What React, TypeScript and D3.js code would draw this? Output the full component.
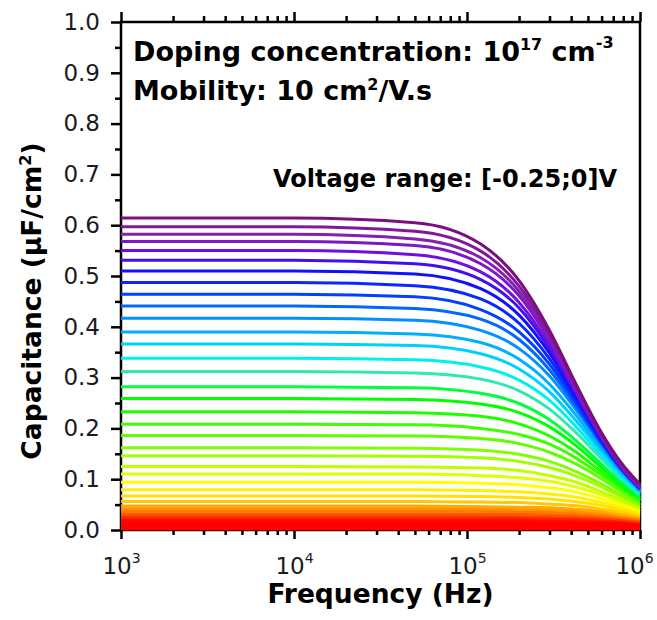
import * as d3 from 'd3'
import { useEffect, useRef } from 'react'

// frequency samples (Hz) shared by every curve
const FREQ = [1e3, 1e4, 5e4, 1.2e5, 2e5, 3e5, 4.2e5, 5.8e5, 7.8e5, 1e6]

// capacitance (µF/cm²) for each voltage step, highest curve first
const C01 = [0.614, 0.614, 0.605, 0.563, 0.491, 0.393, 0.292, 0.2, 0.132, 0.09]
const C02 = [0.597, 0.597, 0.588, 0.549, 0.48, 0.386, 0.288, 0.197, 0.129, 0.087]
const C03 = [0.582, 0.582, 0.573, 0.536, 0.47, 0.379, 0.284, 0.195, 0.127, 0.085]
const C04 = [0.568, 0.568, 0.56, 0.524, 0.461, 0.373, 0.281, 0.193, 0.126, 0.084]
const C05 = [0.55, 0.55, 0.542, 0.508, 0.448, 0.364, 0.275, 0.19, 0.125, 0.083]
const C06 = [0.531, 0.531, 0.524, 0.493, 0.437, 0.357, 0.272, 0.188, 0.124, 0.083]
const C07 = [0.51, 0.51, 0.504, 0.475, 0.423, 0.348, 0.267, 0.186, 0.123, 0.083]
const C08 = [0.487, 0.487, 0.481, 0.455, 0.407, 0.337, 0.26, 0.183, 0.122, 0.082]
const C09 = [0.464, 0.464, 0.459, 0.434, 0.39, 0.326, 0.253, 0.179, 0.12, 0.081]
const C10 = [0.441, 0.441, 0.436, 0.415, 0.375, 0.315, 0.247, 0.177, 0.119, 0.08]
const C11 = [0.417, 0.417, 0.413, 0.393, 0.357, 0.303, 0.24, 0.174, 0.118, 0.079]
const C12 = [0.39, 0.39, 0.386, 0.369, 0.336, 0.287, 0.229, 0.166, 0.114, 0.077]
const C13 = [0.366, 0.366, 0.363, 0.347, 0.317, 0.272, 0.218, 0.16, 0.11, 0.075]
const C14 = [0.338, 0.338, 0.335, 0.321, 0.295, 0.255, 0.206, 0.152, 0.105, 0.073]
const C15 = [0.312, 0.312, 0.309, 0.297, 0.274, 0.238, 0.194, 0.145, 0.101, 0.07]
const C16 = [0.282, 0.282, 0.28, 0.269, 0.249, 0.217, 0.178, 0.134, 0.094, 0.065]
const C17 = [0.259, 0.259, 0.257, 0.248, 0.231, 0.203, 0.168, 0.127, 0.09, 0.063]
const C18 = [0.233, 0.233, 0.231, 0.224, 0.209, 0.185, 0.155, 0.118, 0.085, 0.06]
const C19 = [0.208, 0.208, 0.207, 0.2, 0.188, 0.169, 0.143, 0.111, 0.081, 0.058]
const C20 = [0.186, 0.186, 0.185, 0.18, 0.17, 0.153, 0.131, 0.104, 0.076, 0.055]
const C21 = [0.162, 0.162, 0.161, 0.157, 0.149, 0.135, 0.116, 0.093, 0.069, 0.05]
const C22 = [0.146, 0.146, 0.145, 0.142, 0.135, 0.123, 0.107, 0.087, 0.065, 0.048]
const C23 = [0.125, 0.125, 0.124, 0.122, 0.117, 0.107, 0.095, 0.077, 0.059, 0.044]
const C24 = [0.11, 0.11, 0.11, 0.107, 0.103, 0.096, 0.085, 0.071, 0.055, 0.042]
const C25 = [0.094, 0.094, 0.094, 0.092, 0.089, 0.083, 0.075, 0.063, 0.05, 0.038]
const C26 = [0.079, 0.079, 0.079, 0.078, 0.075, 0.071, 0.065, 0.055, 0.045, 0.035]
const C27 = [0.067, 0.067, 0.067, 0.066, 0.064, 0.061, 0.056, 0.049, 0.04, 0.032]
const C28 = [0.056, 0.056, 0.056, 0.055, 0.054, 0.051, 0.048, 0.042, 0.035, 0.028]
const C29 = [0.047, 0.047, 0.047, 0.046, 0.045, 0.044, 0.041, 0.037, 0.031, 0.026]
const C30 = [0.042, 0.042, 0.042, 0.042, 0.041, 0.04, 0.037, 0.034, 0.029, 0.024]
const C31 = [0.037, 0.037, 0.037, 0.037, 0.036, 0.035, 0.033, 0.03, 0.026, 0.022]
const C32 = [0.032, 0.032, 0.032, 0.032, 0.031, 0.03, 0.029, 0.027, 0.024, 0.02]
const C33 = [0.028, 0.028, 0.028, 0.028, 0.028, 0.027, 0.026, 0.024, 0.021, 0.018]
const C34 = [0.024, 0.024, 0.024, 0.024, 0.024, 0.023, 0.022, 0.021, 0.019, 0.016]
const C35 = [0.02, 0.02, 0.02, 0.02, 0.02, 0.019, 0.019, 0.018, 0.016, 0.014]
const C36 = [0.016, 0.016, 0.016, 0.016, 0.016, 0.016, 0.015, 0.014, 0.013, 0.012]
const C37 = [0.012, 0.012, 0.012, 0.012, 0.012, 0.012, 0.011, 0.011, 0.01, 0.009]
const C38 = [0.008, 0.008, 0.008, 0.008, 0.008, 0.008, 0.008, 0.007, 0.007, 0.006]
const C39 = [0.005, 0.005, 0.005, 0.005, 0.005, 0.005, 0.005, 0.005, 0.004, 0.004]
const C40 = [0.002, 0.002, 0.002, 0.002, 0.002, 0.002, 0.002, 0.002, 0.002, 0.002]

const CURVES = [
  C01, C02, C03, C04, C05, C06, C07, C08, C09, C10, C11, C12, C13, C14,
  C15, C16, C17, C18, C19, C20, C21, C22, C23, C24, C25, C26, C27, C28,
  C29, C30, C31, C32, C33, C34, C35, C36, C37, C38, C39, C40,
]

const Y_TICKS = [0, 0.1, 0.2, 0.3, 0.4, 0.5, 0.6, 0.7, 0.8, 0.9, 1.0]
const Y_MINOR = [0.05, 0.15, 0.25, 0.35, 0.45, 0.55, 0.65, 0.75, 0.85, 0.95]
const X_TICKS = [1e3, 1e4, 1e5, 1e6]
const X_MINOR = [1e3, 1e4, 1e5].flatMap((p) => [2, 3, 4, 5, 6, 7, 8, 9].map((m) => m * p))

// rainbow palette, purple (top) to red (bottom)
const COLOR_IDX = [0, 2, 4, 6, 8, 10, 12, 13, 14, 15, 16, 18, 20, 22, 24, 26, 27, 28, 29, 30, 31, 32, 33, 34, 35, 39]
const COLOR_VAL = [
  '#7a1080', '#8520b0', '#7010e0', '#1010ff', '#0040ff', '#0090ff', '#00d0ff', '#00f0f0',
  '#30e8b0', '#00ff40', '#00ff00', '#40ff00', '#80ff00', '#c0ff00', '#ffff00', '#ffe000',
  '#ffc800', '#ffa800', '#ff9000', '#ff7800', '#ff5a00', '#ff3c00', '#ff2000', '#ff0800',
  '#ff0000', '#ff0000',
]

export default function App() {
  const svgRef = useRef<SVGSVGElement>(null)

  useEffect(() => {
    const width = 657
    const height = 620
    const left = 121
    const right = 640
    const top = 22
    const bottom = 530

    const svg = d3.select(svgRef.current)
    svg.selectAll('*').remove()
    svg.attr('width', width).attr('height', height).attr('viewBox', [0, 0, width, height])

    /* scales */
    const x = d3.scaleLog().domain([1e3, 1e6]).range([left, right])
    const y = d3.scaleLinear().domain([0, 1]).range([bottom, top])
    const color = d3.scaleLinear<string>().domain(COLOR_IDX).range(COLOR_VAL)

    const font = '"DejaVu Sans", sans-serif'

    const styleAxis = (g: d3.Selection<SVGGElement, unknown, null, undefined>) => {
      g.select('.domain').remove()
      g.selectAll('.tick line').attr('stroke', '#000').attr('stroke-width', 2.5)
    }

    /* left axis */
    svg
      .append('g')
      .attr('transform', `translate(${left},0)`)
      .call(
        d3.axisLeft(y).tickValues(Y_TICKS).tickSize(10).tickPadding(11).tickFormat(d3.format('.1f')),
      )
      .call(styleAxis)
      .call((g) =>
        g
          .selectAll('.tick text')
          .attr('font-family', font)
          .attr('font-size', 23)
          .attr('fill', '#1a1a22'),
      )
    svg
      .append('g')
      .attr('transform', `translate(${left},0)`)
      .call(d3.axisLeft(y).tickValues(Y_MINOR).tickSize(6).tickFormat(() => ''))
      .call(styleAxis)

    /* bottom axis, labels as 10^n */
    svg
      .append('g')
      .attr('transform', `translate(0,${bottom})`)
      .call(d3.axisBottom(x).tickValues(X_TICKS).tickSize(9).tickFormat(() => ''))
      .call(styleAxis)
      .call((g) =>
        g.selectAll<SVGTextElement, number>('.tick text').each(function (d) {
          const t = d3
            .select(this)
            .attr('x', d === 1e6 ? -6 : 0) // keep the last label inside the page
            .attr('y', 44)
            .attr('dy', 0)
            .attr('font-family', font)
            .attr('font-size', 23)
            .attr('fill', '#1a1a22')
          t.append('tspan').text('10')
          t.append('tspan')
            .attr('dy', -11)
            .attr('font-size', 14)
            .text(String(Math.round(Math.log10(d))))
        }),
      )
    svg
      .append('g')
      .attr('transform', `translate(0,${bottom})`)
      .call(d3.axisBottom(x).tickValues(X_MINOR).tickSize(5).tickFormat(() => ''))
      .call(styleAxis)

    /* top axis */
    svg
      .append('g')
      .attr('transform', `translate(0,${top})`)
      .call(d3.axisTop(x).tickValues(X_TICKS).tickSize(10).tickFormat(() => ''))
      .call(styleAxis)
    svg
      .append('g')
      .attr('transform', `translate(0,${top})`)
      .call(d3.axisTop(x).tickValues(X_MINOR).tickSize(6).tickFormat(() => ''))
      .call(styleAxis)

    /* frame */
    svg
      .append('rect')
      .attr('x', left)
      .attr('y', top)
      .attr('width', right - left)
      .attr('height', bottom - top)
      .attr('fill', 'none')
      .attr('stroke', '#000')
      .attr('stroke-width', 2.5)

    /* curves, red first so purple ends on top */
    const line = d3
      .line<number>()
      .x((_, i) => x(FREQ[i]))
      .y((d) => y(d))
      .curve(d3.curveMonotoneX)

    svg
      .append('g')
      .attr('fill', 'none')
      .attr('stroke-width', 3)
      .selectAll('path')
      .data(CURVES.map((c, i) => ({ c, i })).reverse())
      .join('path')
      .attr('stroke', (d) => color(d.i))
      .attr('d', (d) => line(d.c))

    /* axis titles */
    svg
      .append('text')
      .attr('x', (left + right) / 2)
      .attr('y', 603)
      .attr('text-anchor', 'middle')
      .attr('font-family', font)
      .attr('font-weight', 'bold')
      .attr('font-size', 26.5)
      .text('Frequency (Hz)')

    const yTitle = svg
      .append('text')
      .attr('transform', 'translate(41,301) rotate(-90)')
      .attr('text-anchor', 'middle')
      .attr('font-family', font)
      .attr('font-weight', 'bold')
      .attr('font-size', 26.5)
    yTitle.append('tspan').text('Capacitance (µF/cm')
    yTitle.append('tspan').attr('dy', -10).attr('font-size', 16).text('2')
    yTitle.append('tspan').attr('dy', 10).text(')')

    /* annotations */
    const doping = svg
      .append('text')
      .attr('x', 133)
      .attr('y', 61)
      .attr('font-family', font)
      .attr('font-weight', 'bold')
      .attr('font-size', 27)
    doping.append('tspan').text('Doping concentration: 10')
    doping.append('tspan').attr('dy', -11).attr('font-size', 16).text('17')
    doping.append('tspan').attr('dy', 11).text(' cm')
    doping.append('tspan').attr('dy', -13).attr('font-size', 16).text('-3')

    const mobility = svg
      .append('text')
      .attr('x', 133)
      .attr('y', 100)
      .attr('font-family', font)
      .attr('font-weight', 'bold')
      .attr('font-size', 27)
    mobility.append('tspan').text('Mobility: 10 cm')
    mobility.append('tspan').attr('dy', -10).attr('font-size', 16).text('2')
    mobility.append('tspan').attr('dy', 10).text('/V.s')

    svg
      .append('text')
      .attr('x', 617)
      .attr('y', 187)
      .attr('text-anchor', 'end')
      .attr('font-family', font)
      .attr('font-weight', 'bold')
      .attr('font-size', 24)
      .text('Voltage range: [-0.25;0]V')
  }, [])

  return (
    <svg
      ref={svgRef}
      style={{ position: 'absolute', left: 0, top: 0, background: '#fff', display: 'block' }}
    />
  )
}
